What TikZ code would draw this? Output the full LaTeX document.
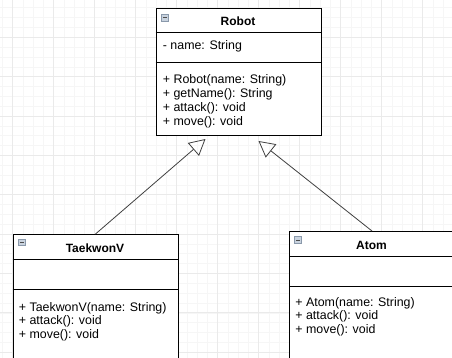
\documentclass[tikz,border=0pt]{standalone}
\usepackage{fontspec}
\setmainfont{Liberation Sans}
\usetikzlibrary{arrows.meta}
\definecolor{gridmaj}{HTML}{EAEAEA}
\definecolor{gridmin}{HTML}{F6F6F6}
\definecolor{iconfill}{HTML}{C9D3DF}
\definecolor{icondraw}{HTML}{8A99AB}
\definecolor{linkgray}{HTML}{404040}

\begin{document}
\begin{tikzpicture}[thick, x=1pt, y=-1pt]
\tikzstyle{classbox}=[rectangle, draw=black, line width=1pt, fill=white, anchor=north west, inner sep=0pt]
\tikzstyle{sepline}=[draw=black, line width=1pt]
\tikzstyle{foldicon}=[rectangle, draw=icondraw, fill=iconfill, line width=0.6pt, minimum size=6.5pt, inner sep=0pt]
\tikzstyle{iconbar}=[draw=black!70, line width=1pt]
\tikzstyle{classname}=[anchor=base, inner sep=0pt, font=\fontsize{12}{14}\selectfont\bfseries]
\tikzstyle{member}=[anchor=base west, inner sep=0pt, font=\fontsize{12.4}{14}\selectfont]
\tikzstyle{drawstyle}=[draw=linkgray, line width=0.8pt, -{Triangle[open, length=16pt, width=17pt]}]

\useasboundingbox (0,0) rectangle (452,358);
\clip (0,0) rectangle (452,358);
\fill[white] (0,0) rectangle (452,358);

% background grid
\foreach \i in {-4,...,46} \draw[gridmin, line width=0.6pt] ({12.7+10.25*\i},0) -- ({12.7+10.25*\i},358);
\foreach \j in {-4,...,37} \draw[gridmin, line width=0.6pt] (0,{37.3+9.84*\j}) -- (452,{37.3+9.84*\j});
\foreach \i in {-1,...,11} \draw[gridmaj, line width=0.8pt] ({12.7+41*\i},0) -- ({12.7+41*\i},358);
\foreach \j in {-1,...,9} \draw[gridmaj, line width=0.8pt] (0,{37.3+39.35*\j}) -- (452,{37.3+39.35*\j});

% Robot
\node[classbox, minimum width=165pt, minimum height=127.5pt] (C0) at (155.5,8) {};
\draw[sepline] (155.5,33) -- (320.5,33);
\draw[sepline] (155.5,63) -- (320.5,63);
\node[foldicon] (C0i) at (165,18) {};
\draw[iconbar] ([xshift=1.4pt]C0i.west) -- ([xshift=-1.4pt]C0i.east);
\node[classname] (C0n) at (238,26) {Robot};
\node[member] (C0a0) at (162.5,50) {- name: String};
\node[member] (C0m0) at (162.5,84) {+ Robot(name: String)};
\node[member] (C0m1) at (162.5,97.7) {+ getName(): String};
\node[member] (C0m2) at (162.5,111.4) {+ attack(): void};
\node[member] (C0m3) at (162.5,125.1) {+ move(): void};

% TaekwonV
\node[classbox, minimum width=165pt, minimum height=140pt] (C1) at (12.5,234) {};
\draw[sepline] (12.5,259) -- (177.5,259);
\draw[sepline] (12.5,289) -- (177.5,289);
\node[foldicon] (C1i) at (22,242.5) {};
\draw[iconbar] ([xshift=1.4pt]C1i.west) -- ([xshift=-1.4pt]C1i.east);
\node[classname] (C1n) at (95,252) {TaekwonV};
\node[member] (C1m0) at (18.5,311) {+ TaekwonV(name: String)};
\node[member] (C1m1) at (18.5,324.7) {+ attack(): void};
\node[member] (C1m2) at (18.5,338.4) {+ move(): void};

% Atom
\node[classbox, minimum width=165pt, minimum height=140pt] (C2) at (289,231) {};
\draw[sepline] (289,256) -- (454,256);
\draw[sepline] (289,286) -- (454,286);
\node[foldicon] (C2i) at (298,240) {};
\draw[iconbar] ([xshift=1.4pt]C2i.west) -- ([xshift=-1.4pt]C2i.east);
\node[classname] (C2n) at (371.5,249) {Atom};
\node[member] (C2m0) at (295,306) {+ Atom(name: String)};
\node[member] (C2m1) at (295,319.7) {+ attack(): void};
\node[member] (C2m2) at (295,333.4) {+ move(): void};

% generalisation
\coordinate (C0in1) at ([xshift=-33pt, yshift=-2.5pt]C0.south);
\coordinate (C0in2) at ([xshift=20pt, yshift=-4.5pt]C0.south);
\draw[drawstyle] (C1.north) -- (C0in1);
\draw[drawstyle] (C2.north) -- (C0in2);
\end{tikzpicture}
\end{document}
